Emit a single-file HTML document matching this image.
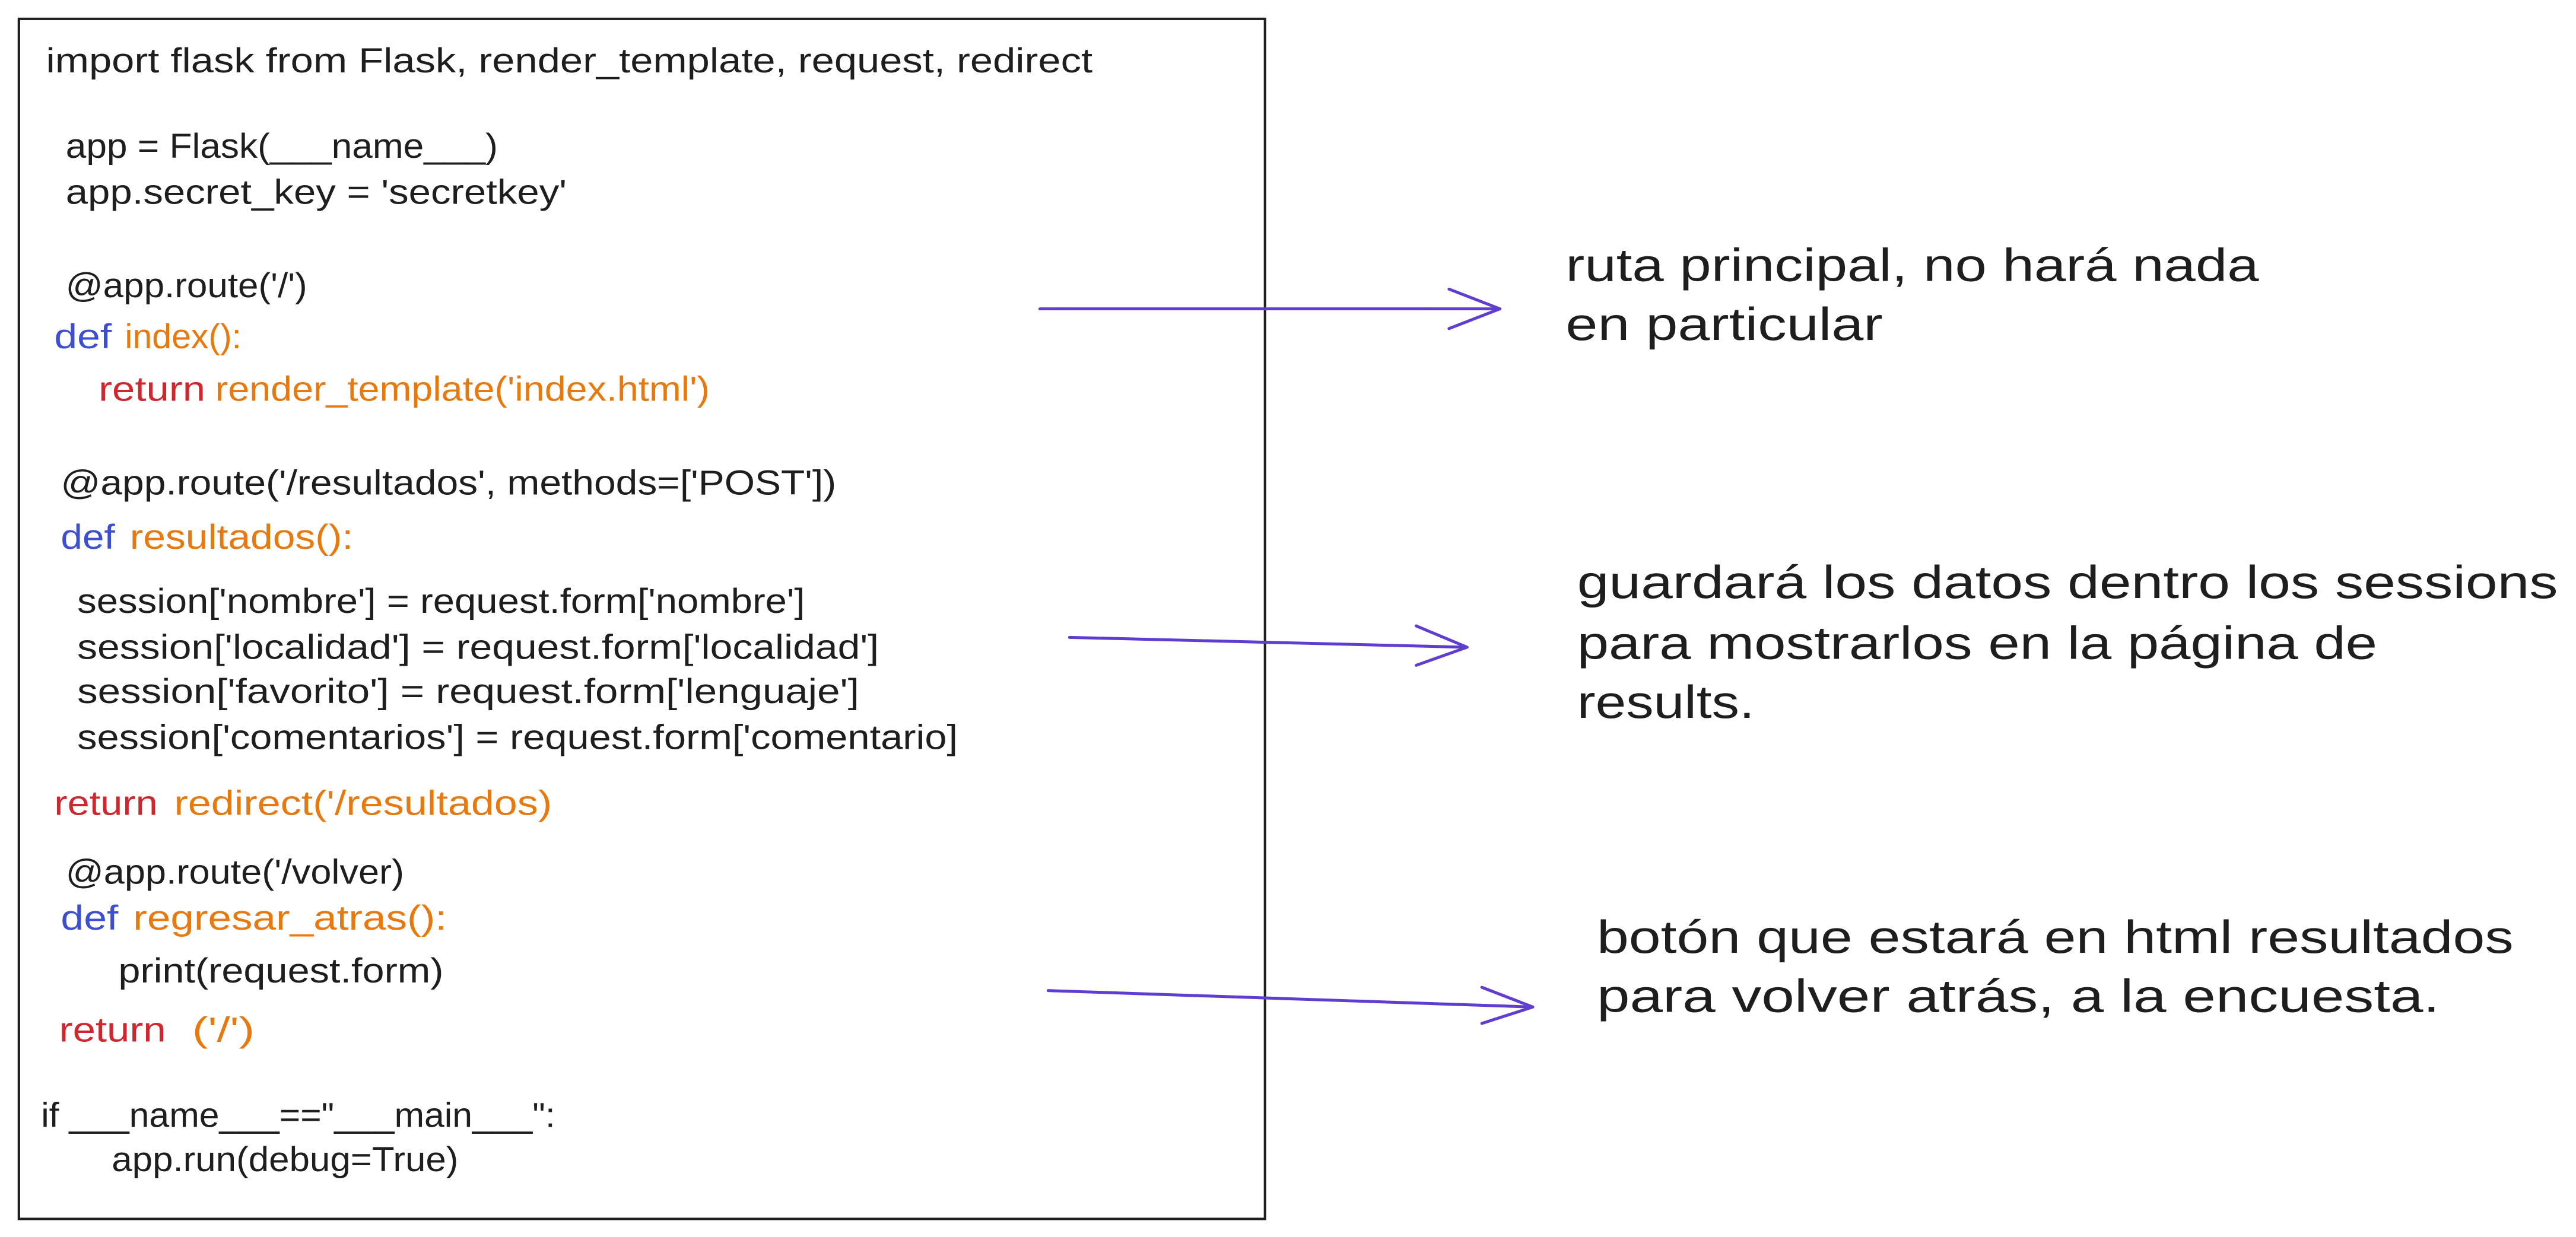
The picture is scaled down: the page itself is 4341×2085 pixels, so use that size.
<!DOCTYPE html>
<html><head><meta charset="utf-8"><style>
html,body{margin:0;padding:0;background:#fff;}
svg{display:block;}
text{font-family:"Liberation Sans",sans-serif;}
.c{font-size:21px;fill:#1e1e1e;}
.r{font-size:28px;fill:#1e1e1e;}
.b{fill:#3b4fd0;} .o{fill:#e8790f;} .d{fill:#d0262e;}
</style></head><body>
<svg width="4341" height="2085" viewBox="0 0 1568 753" preserveAspectRatio="none" xmlns="http://www.w3.org/2000/svg">
<rect x="0" y="0" width="1568" height="753" fill="#fff"/>
<rect x="11.5" y="11.5" width="758.5" height="730.5" fill="none" stroke="#1e1e1e" stroke-width="1.5"/>
<g class="c">
<text x="28" y="44" textLength="637" lengthAdjust="spacingAndGlyphs">import flask from Flask, render_template, request, redirect</text>
<text x="40" y="96" textLength="263" lengthAdjust="spacingAndGlyphs">app = Flask(___name___)</text>
<text x="40" y="124" textLength="305" lengthAdjust="spacingAndGlyphs">app.secret_key = 'secretkey'</text>
<text x="40" y="181" textLength="147" lengthAdjust="spacingAndGlyphs">@app.route('/')</text>
<text x="33" y="212" textLength="35" lengthAdjust="spacingAndGlyphs" class="c b">def</text>
<text x="76" y="212" textLength="71" lengthAdjust="spacingAndGlyphs" class="c o">index():</text>
<text x="60" y="244" textLength="65" lengthAdjust="spacingAndGlyphs" class="c d">return</text>
<text x="131" y="244" textLength="301" lengthAdjust="spacingAndGlyphs" class="c o">render_template('index.html')</text>
<text x="37" y="301" textLength="472" lengthAdjust="spacingAndGlyphs">@app.route('/resultados', methods=['POST'])</text>
<text x="37" y="334" textLength="33" lengthAdjust="spacingAndGlyphs" class="c b">def</text>
<text x="79" y="334" textLength="136" lengthAdjust="spacingAndGlyphs" class="c o">resultados():</text>
<text x="47" y="373" textLength="443" lengthAdjust="spacingAndGlyphs">session['nombre'] = request.form['nombre']</text>
<text x="47" y="401" textLength="488" lengthAdjust="spacingAndGlyphs">session['localidad'] = request.form['localidad']</text>
<text x="47" y="428" textLength="476" lengthAdjust="spacingAndGlyphs">session['favorito'] = request.form['lenguaje']</text>
<text x="47" y="456" textLength="536" lengthAdjust="spacingAndGlyphs">session['comentarios'] = request.form['comentario]</text>
<text x="33" y="496" textLength="63" lengthAdjust="spacingAndGlyphs" class="c d">return</text>
<text x="106" y="496" textLength="230" lengthAdjust="spacingAndGlyphs" class="c o">redirect('/resultados)</text>
<text x="40" y="538" textLength="206" lengthAdjust="spacingAndGlyphs">@app.route('/volver)</text>
<text x="37" y="566" textLength="35" lengthAdjust="spacingAndGlyphs" class="c b">def</text>
<text x="81" y="566" textLength="191" lengthAdjust="spacingAndGlyphs" class="c o">regresar_atras():</text>
<text x="72" y="598" textLength="198" lengthAdjust="spacingAndGlyphs">print(request.form)</text>
<text x="36" y="634" textLength="65" lengthAdjust="spacingAndGlyphs" class="c d">return</text>
<text x="117" y="634" textLength="38" lengthAdjust="spacingAndGlyphs" class="c o">('/')</text>
<text x="25" y="686" textLength="313" lengthAdjust="spacingAndGlyphs">if ___name___=="___main___":</text>
<text x="68" y="713" textLength="211" lengthAdjust="spacingAndGlyphs">app.run(debug=True)</text>
</g>
<g class="r">
<text x="953" y="171" textLength="422" lengthAdjust="spacingAndGlyphs">ruta principal, no hará nada</text>
<text x="953" y="207" textLength="193" lengthAdjust="spacingAndGlyphs">en particular</text>
<text x="960" y="364" textLength="597" lengthAdjust="spacingAndGlyphs">guardará los datos dentro los sessions</text>
<text x="960" y="401" textLength="487" lengthAdjust="spacingAndGlyphs">para mostrarlos en la página de</text>
<text x="960" y="437" textLength="108" lengthAdjust="spacingAndGlyphs">results.</text>
<text x="972" y="580" textLength="558" lengthAdjust="spacingAndGlyphs">botón que estará en html resultados</text>
<text x="972" y="616" textLength="513" lengthAdjust="spacingAndGlyphs">para volver atrás, a la encuesta.</text>
</g>
<g stroke="#5f3dd0" stroke-width="1.8" fill="none" stroke-linecap="round" stroke-linejoin="round">
<path d="M633 188 L913 188"/>
<path d="M882 176 L913 188 L882 200"/>
<path d="M651 388 L893 394"/>
<path d="M862 381 L893 394 L862 405"/>
<path d="M638 603 L933 613"/>
<path d="M902 601 L933 613 L902 623"/>
</g>
</svg>
</body></html>
